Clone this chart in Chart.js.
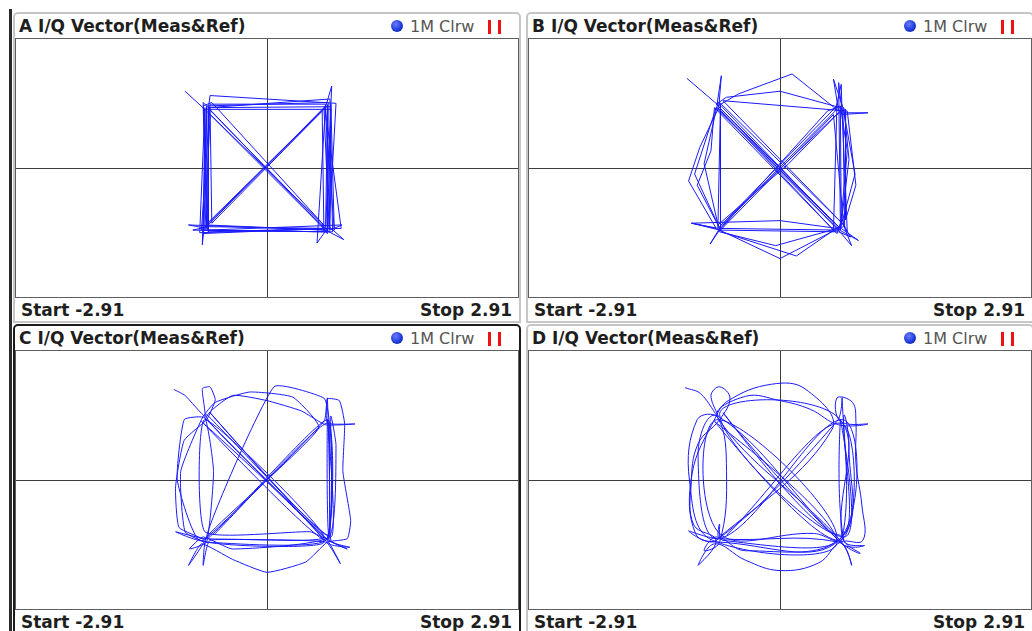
<!DOCTYPE html>
<html><head><meta charset="utf-8">
<script src="https://cdn.jsdelivr.net/npm/chart.js@4.4.1/dist/chart.umd.min.js"></script>
<style>
html,body{margin:0;padding:0;background:#fff;}
body{width:1032px;height:631px;overflow:hidden;position:relative;font-family:"DejaVu Sans",Verdana,sans-serif;}
.frame{position:absolute;box-sizing:border-box;width:508px;height:311px;border:2px solid #c6c6c6;border-radius:5px 5px 0 0;background:#fff;}
.frame.active{border-color:#1c1c1c;}
.plot{position:absolute;box-sizing:border-box;width:504px;height:260px;border:1px solid #5e5e5e;background:#fff;}
.plot canvas{position:absolute;left:0;top:0;}
.ttl{position:absolute;font-weight:bold;font-size:17px;line-height:17px;color:#1e1e1e;white-space:nowrap;}
.leg{position:absolute;font-size:16px;line-height:17px;color:#555;white-space:nowrap;}
.dot{position:absolute;width:12px;height:12px;border-radius:50%;background:radial-gradient(circle at 40% 35%,#6a7dff 0%,#1f3bdc 55%,#0b1a8a 100%);}
.bar{position:absolute;width:3px;height:14px;background:#f01212;}
.ftr{position:absolute;font-weight:bold;font-size:17px;line-height:17px;color:#1e1e1e;white-space:nowrap;}
.lbar{position:absolute;left:9px;top:9px;width:3px;height:622px;background:#2a2a2a;}
</style>
</head><body>
<div class="lbar"></div>
<script>
// ---- axis span (Start / Stop) ----
const startVal = -2.91;
const stopVal = 2.91;
const qSpan = 1.4955;

// ---- panel titles ----
const panelTitles = ["A I/Q Vector(Meas&Ref)", "B I/Q Vector(Meas&Ref)", "C I/Q Vector(Meas&Ref)", "D I/Q Vector(Meas&Ref)"];
const traceLabel = "1M Clrw";
const startLabel = "Start -2.91";
const stopLabel = "Stop 2.91";

// ---- I/Q traces read from the screens: [I, Q] ----
const traceA = [[-0.95,0.89],[-0.70,0.66],[-0.73,-0.70],[-0.75,-0.89],[-0.70,0.72],[0.71,0.76],[0.70,-0.72],[-0.71,-0.66],[0.68,0.71],[0.75,0.95],[0.68,-0.70],[-0.68,0.69],[-0.66,0.84],[0.80,0.75],[0.72,-0.68],[0.89,-0.83],[0.68,-0.72],[-0.91,-0.66],[-0.70,-0.70],[-0.74,0.72],[-0.64,0.76],[0.64,-0.64],[0.66,-0.74],[0.64,0.66],[-0.64,-0.64],[-0.66,0.70],[0.74,0.71],[0.73,-0.72],[0.87,-0.66],[-0.69,-0.72],[-0.70,0.66],[0.68,-0.68],[0.70,0.72],[-0.72,-0.68],[0.70,-0.70],[0.58,-0.87],[0.68,0.74],[-0.66,0.74],[-0.76,-0.72],[0.76,-0.74],[0.73,0.80],[-0.68,0.70],[-0.68,-0.74],[0.72,-0.70],[0.66,0.70],[-0.70,-0.68],[-0.72,0.70],[-0.78,-0.75],[0.86,-0.70],[0.67,0.72],[0.78,-0.72],[0.74,0.74],[0.70,-0.74],[-0.72,-0.72],[-0.66,0.62],[0.66,-0.70],[-0.74,-0.76],[-0.72,0.68],[0.74,0.68],[0.72,-0.74],[-0.86,-0.72],[-0.68,-0.68],[-0.74,0.76],[0.62,-0.66],[0.70,-0.76],[0.70,0.74]];

const traceB = [[-1.08,1.04],[-0.73,0.74],[-0.68,1.07],[-0.71,0.70],[-0.93,0.24],[-1.06,-0.15],[-0.74,-0.70],[-1.02,-0.64],[-0.70,-0.72],[0.00,-1.05],[0.60,-0.74],[0.70,-0.70],[0.87,-0.07],[0.73,0.70],[0.62,1.03],[0.68,0.66],[0.14,1.09],[-0.48,0.86],[-0.72,0.72],[0.68,-0.68],[0.91,-0.84],[0.69,-0.72],[-0.70,-0.70],[-0.81,-0.88],[-0.66,-0.66],[0.64,0.66],[0.71,0.97],[0.72,0.62],[1.02,0.64],[0.73,0.64],[0.75,-0.70],[0.83,-0.90],[0.66,-0.70],[-0.74,0.74],[-0.62,0.82],[0.00,0.89],[0.70,0.70],[0.71,-0.66],[0.19,-1.02],[-0.68,-0.74],[-0.99,-0.07],[-0.74,0.70],[0.66,-0.70],[0.00,-0.61],[-1.03,-0.64],[-0.72,-0.70],[-0.69,0.73],[-0.69,-0.72],[0.62,0.62],[0.74,-0.68],[-0.05,-0.90],[-0.70,-0.74],[-0.88,0.05],[-0.72,0.76],[0.70,-0.72],[0.80,0.10],[0.74,0.70],[-0.70,-0.68],[0.66,0.72],[0.62,-0.72],[-0.72,0.70],[-0.70,0.76],[0.74,-0.66],[0.78,-0.74],[0.72,0.66],[0.68,0.99],[0.70,-0.64],[0.66,-0.76],[-0.76,0.70],[-0.80,0.20],[-0.96,-0.20],[-0.72,-0.66],[0.10,0.05],[0.66,0.62],[0.76,0.68],[0.76,-0.60],[0.88,-0.20],[0.78,0.66],[-0.66,0.78],[0.72,-0.64],[0.82,-0.80],[0.68,-0.74],[-0.70,-0.72],[0.55,0.66],[0.70,0.72],[0.78,0.20],[0.70,-0.70],[-0.74,0.70]];

const traceC = [[-1.08,1.05],[-0.95,0.98],[-0.72,0.74],[-0.75,1.06],[-0.66,1.08],[-0.60,0.93],[-0.70,0.70],[-0.96,0.46],[-1.06,-0.08],[-1.02,-0.55],[-0.73,-0.70],[-0.91,-0.99],[-0.76,-0.74],[-0.40,-0.92],[0.00,-1.07],[0.45,-0.95],[0.70,-0.72],[0.93,-0.68],[0.97,-0.47],[0.88,0.10],[0.90,0.65],[0.84,0.92],[0.70,0.94],[0.70,0.66],[1.02,0.65],[0.68,0.64],[0.40,0.80],[0.00,0.92],[-0.40,0.98],[-0.70,0.72],[0.70,-0.70],[0.85,-0.97],[0.68,-0.72],[-0.72,-0.68],[-1.06,-0.60],[-0.74,-0.70],[0.66,0.68],[0.70,0.95],[0.72,-0.68],[0.50,-0.60],[-0.72,-0.60],[-0.72,0.70],[0.66,-0.66],[-0.66,-0.70],[-0.74,-0.99],[-0.70,-0.66],[0.60,0.60],[0.30,0.96],[-0.20,1.02],[-0.60,0.90],[-0.75,0.72],[-1.00,0.10],[-0.95,-0.60],[-0.70,-0.72],[0.68,-0.70],[0.70,0.70],[-0.70,-0.68],[0.08,1.08],[0.66,0.95],[0.72,0.70],[0.74,-0.70],[0.93,-0.80],[0.69,-0.68],[-0.72,0.72],[-0.70,0.76],[0.74,-0.66],[0.70,0.70],[0.72,-0.70],[0.96,-0.78],[0.72,-0.74],[-0.66,0.78],[0.70,-0.64],[0.74,0.74],[0.80,0.40],[0.72,-0.66],[-0.40,-0.80],[-0.74,-0.66],[-0.90,-0.80],[-0.70,-0.72],[-0.62,0.10],[-0.72,0.72],[-0.96,0.70],[-1.04,0.00],[-0.78,-0.70],[0.66,-0.72],[-0.76,0.68],[0.68,-0.70],[0.70,0.66],[-0.62,-0.64]];

const traceD = [[-1.10,1.07],[-0.92,1.00],[-0.72,0.74],[-0.80,0.98],[-0.70,1.08],[-0.58,0.95],[-0.70,0.70],[-0.95,0.42],[-1.03,-0.05],[-1.00,-0.52],[-0.74,-0.70],[-0.95,-0.99],[-0.76,-0.74],[-0.40,-0.93],[0.00,-1.05],[0.45,-0.96],[0.70,-0.72],[0.96,-0.70],[0.95,-0.30],[0.88,0.20],[0.88,0.68],[0.84,0.90],[0.66,0.95],[0.70,0.68],[1.02,0.65],[0.68,0.64],[0.35,0.82],[0.00,0.92],[-0.40,0.97],[-0.72,0.72],[0.70,-0.70],[0.83,-0.99],[0.68,-0.72],[-0.72,-0.68],[-1.06,-0.59],[-0.74,-0.70],[0.66,0.68],[0.72,0.94],[0.72,-0.68],[0.40,-0.62],[-0.72,-0.60],[-0.72,0.70],[0.66,-0.66],[-0.66,-0.70],[-0.70,-0.51],[-0.70,-0.66],[0.60,0.58],[0.30,1.05],[-0.10,1.11],[-0.60,0.92],[-0.75,0.72],[-1.02,0.07],[-0.98,-0.62],[-0.70,-0.72],[0.68,-0.70],[0.72,0.70],[-0.70,-0.68],[-0.95,0.30],[-0.72,0.74],[0.70,-0.72],[0.93,-0.85],[0.72,-0.66],[0.68,0.72],[-0.70,0.76],[0.74,-0.66],[0.70,0.70],[0.74,-0.70],[0.98,-0.76],[0.72,-0.74],[-0.66,0.78],[0.70,-0.64],[0.74,0.74],[0.80,0.40],[0.72,-0.66],[-0.40,-0.82],[-0.74,-0.66],[-0.88,-0.82],[-0.70,-0.72],[-0.62,0.10],[-0.72,0.72],[-0.96,0.70],[-1.05,0.00],[-0.78,-0.70],[0.66,-0.72],[-0.76,0.68],[0.68,-0.70],[0.70,0.66],[-0.62,-0.64]];

const traces = [traceA, traceB, traceC, traceD];
const tensions = [0, 0, 0.15, 0.4];

// ---- layout (plot-area top-left corners) ----
const layoutPos = [[16,39,false],[529,39,false],[16,351,true],[529,351,false]];

function el(cls, l, t, txt){
  const d=document.createElement('div'); d.className=cls;
  d.style.left=l+'px'; d.style.top=t+'px';
  if(txt!==undefined) d.textContent=txt;
  document.body.appendChild(d); return d;
}

layoutPos.forEach((p,i)=>{
  const [L,T,active]=p;
  el('frame'+(active?' active':''), L-3, T-27);
  el('ttl', L+3, T-21, panelTitles[i]);
  el('dot', L+375, T-19);
  el('leg', L+394, T-21, traceLabel);
  el('bar', L+472, T-19); el('bar', L+482, T-19);
  el('ftr', L+5, T+263, startLabel);
  const st=el('ftr', 0, T+263, stopLabel);
  st.style.left=(L+496 - st.offsetWidth)+'px';
  const pb=el('plot', L-1, T-1);
  const cv=document.createElement('canvas'); cv.width=502; cv.height=258;
  cv.style.width='502px'; cv.style.height='258px';
  pb.appendChild(cv);
  const axisCommon = {
    ticks:{display:false},
    grid:{drawTicks:false,color:'#3c3c3c',lineWidth:1},
    border:{display:false},
    afterBuildTicks: s=>{ s.ticks=[{value:0}]; }
  };
  new Chart(cv,{
    type:'scatter',
    data:{datasets:[{
      data: traces[i].map(v=>({x:v[0],y:v[1]})),
      showLine:true, borderColor:'#1a1aff', borderWidth:1,
      pointRadius:0, tension:tensions[i], fill:false
    }]},
    options:{
      responsive:false, animation:false,
      layout:{padding:0},
      plugins:{legend:{display:false},tooltip:{enabled:false}},
      scales:{
        x:Object.assign({type:'linear',min:startVal,max:stopVal},axisCommon),
        y:Object.assign({type:'linear',min:-qSpan,max:qSpan},axisCommon)
      }
    }
  });
});
</script>
</body></html>
